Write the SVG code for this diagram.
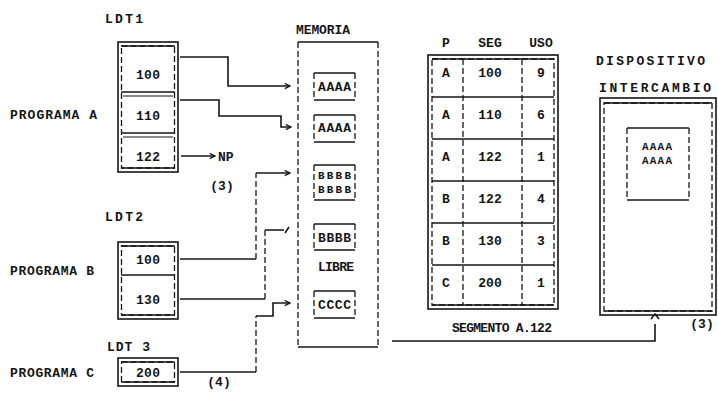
<svg xmlns="http://www.w3.org/2000/svg" width="718" height="396" viewBox="0 0 718 396">
<defs>
<style>
.t{font-family:"Liberation Mono","DejaVu Sans Mono",monospace;font-size:13px;font-weight:bold;fill:#151515;}
.s{font-size:11px;}
.ln{fill:none;stroke:#151515;stroke-width:1.6;}
.th{fill:none;stroke:#151515;stroke-width:1;}
.d{fill:none;stroke:#151515;stroke-width:1.3;stroke-dasharray:6 3;}
</style>
<marker id="ar" viewBox="0 0 8 8" refX="7" refY="4" markerWidth="7" markerHeight="7" markerUnits="userSpaceOnUse" orient="auto"><path d="M1,1 L7,4 L1,7" fill="none" stroke="#151515" stroke-width="1.4"/></marker>
</defs>
<rect width="718" height="396" fill="#ffffff"/>

<g id="ldt1">
<text class="t" x="105" y="23" textLength="38" lengthAdjust="spacing">LDT1</text>
<text class="t" x="10" y="119" textLength="87" lengthAdjust="spacing">PROGRAMA A</text>
<rect class="ln" x="118" y="42" width="60" height="130"/>
<rect class="d" x="121.5" y="46" width="53" height="122"/>
<line class="ln" x1="121" y1="46" x2="175" y2="46"/>
<line class="ln" x1="121" y1="168" x2="175" y2="168"/>
<line class="ln" x1="121" y1="92" x2="175" y2="92"/>
<line class="th" x1="123" y1="96" x2="173" y2="96"/>
<line class="ln" x1="121" y1="133" x2="175" y2="133"/>
<line class="th" x1="123" y1="137" x2="173" y2="137"/>
<text class="t" x="136" y="79" textLength="24" lengthAdjust="spacing">100</text>
<text class="t" x="136" y="120" textLength="24" lengthAdjust="spacing">110</text>
<text class="t" x="136" y="161" textLength="24" lengthAdjust="spacing">122</text>
</g>

<g id="ldt2">
<text class="t" x="105" y="221" textLength="38" lengthAdjust="spacing">LDT2</text>
<text class="t" x="10" y="275" textLength="84" lengthAdjust="spacing">PROGRAMA B</text>
<rect class="ln" x="118" y="242" width="60" height="77"/>
<rect class="d" x="121.5" y="246" width="53" height="69"/>
<line class="ln" x1="121" y1="246" x2="175" y2="246"/>
<line class="ln" x1="121" y1="315" x2="175" y2="315"/>
<line class="ln" x1="121" y1="275" x2="175" y2="275"/>
<text class="t" x="136" y="264" textLength="24" lengthAdjust="spacing">100</text>
<text class="t" x="136" y="304" textLength="24" lengthAdjust="spacing">130</text>
</g>

<g id="ldt3">
<text class="t" x="107" y="351" textLength="43" lengthAdjust="spacing">LDT 3</text>
<text class="t" x="10" y="377" textLength="84" lengthAdjust="spacing">PROGRAMA C</text>
<rect class="ln" x="118" y="358" width="60" height="28"/>
<rect class="d" x="121.5" y="362" width="53" height="20"/>
<line class="ln" x1="121" y1="362" x2="175" y2="362"/>
<line class="ln" x1="121" y1="382" x2="175" y2="382"/>
<text class="t" x="136" y="377" textLength="24" lengthAdjust="spacing">200</text>
</g>

<g id="memoria">
<text class="t" x="296" y="34" textLength="54" lengthAdjust="spacing">MEMORIA</text>
<line class="ln" x1="298" y1="42" x2="378" y2="42"/>
<line class="ln" x1="298" y1="347" x2="378" y2="347"/>
<line class="d" x1="298" y1="42" x2="298" y2="347"/>
<line class="d" x1="378" y1="42" x2="378" y2="347"/>
<g id="m1"><line class="ln" x1="314" y1="73" x2="355" y2="73"/><line class="ln" x1="314" y1="100" x2="355" y2="100"/><line class="d" x1="314" y1="73" x2="314" y2="100"/><line class="d" x1="355" y1="73" x2="355" y2="100"/><text class="t" x="318" y="91" textLength="33" lengthAdjust="spacing">AAAA</text></g>
<g id="m2"><line class="ln" x1="314" y1="115" x2="355" y2="115"/><line class="ln" x1="314" y1="142" x2="355" y2="142"/><line class="d" x1="314" y1="115" x2="314" y2="142"/><line class="d" x1="355" y1="115" x2="355" y2="142"/><text class="t" x="318" y="132" textLength="33" lengthAdjust="spacing">AAAA</text></g>
<g id="m3"><line class="ln" x1="314" y1="165" x2="355" y2="165"/><line class="ln" x1="314" y1="200" x2="355" y2="200"/><line class="d" x1="314" y1="165" x2="314" y2="200"/><line class="d" x1="355" y1="165" x2="355" y2="200"/><text class="t s" x="318" y="179" textLength="33" lengthAdjust="spacing">BBBB</text><text class="t s" x="318" y="193" textLength="33" lengthAdjust="spacing">BBBB</text></g>
<g id="m4"><line class="ln" x1="314" y1="224" x2="355" y2="224"/><line class="ln" x1="314" y1="250" x2="355" y2="250"/><line class="d" x1="314" y1="224" x2="314" y2="250"/><line class="d" x1="355" y1="224" x2="355" y2="250"/><text class="t" x="318" y="242" textLength="33" lengthAdjust="spacing">BBBB</text></g>
<text class="t" x="318" y="271" textLength="36" lengthAdjust="spacing">LIBRE</text>
<g id="m5"><line class="ln" x1="314" y1="291" x2="355" y2="291"/><line class="ln" x1="314" y1="318" x2="355" y2="318"/><line class="d" x1="314" y1="291" x2="314" y2="318"/><line class="d" x1="355" y1="291" x2="355" y2="318"/><text class="t" x="318" y="309" textLength="33" lengthAdjust="spacing">CCCC</text></g>
</g>

<g id="tabla">
<text class="t" x="446" y="47" text-anchor="middle">P</text>
<text class="t" x="490" y="47" text-anchor="middle">SEG</text>
<text class="t" x="541" y="47" text-anchor="middle">USO</text>
<rect class="ln" x="428" y="55" width="130" height="254"/>
<rect class="d" x="432" y="59" width="122" height="246"/>
<line class="ln" x1="432" y1="59" x2="554" y2="59"/>
<line class="ln" x1="432" y1="305" x2="554" y2="305"/>
<line class="ln" x1="432" y1="97" x2="554" y2="97"/>
<line class="ln" x1="432" y1="139" x2="554" y2="139"/>
<line class="ln" x1="432" y1="181" x2="554" y2="181"/>
<line class="ln" x1="432" y1="223" x2="554" y2="223"/>
<line class="ln" x1="432" y1="265" x2="554" y2="265"/>
<line class="d" x1="463" y1="59" x2="463" y2="305"/>
<line class="d" x1="522" y1="59" x2="522" y2="305"/>
<text class="t" x="446" y="77" text-anchor="middle">A</text><text class="t" x="490" y="77" text-anchor="middle">100</text><text class="t" x="541" y="77" text-anchor="middle">9</text>
<text class="t" x="446" y="119" text-anchor="middle">A</text><text class="t" x="490" y="119" text-anchor="middle">110</text><text class="t" x="541" y="119" text-anchor="middle">6</text>
<text class="t" x="446" y="161" text-anchor="middle">A</text><text class="t" x="490" y="161" text-anchor="middle">122</text><text class="t" x="541" y="161" text-anchor="middle">1</text>
<text class="t" x="446" y="203" text-anchor="middle">B</text><text class="t" x="490" y="203" text-anchor="middle">122</text><text class="t" x="541" y="203" text-anchor="middle">4</text>
<text class="t" x="446" y="245" text-anchor="middle">B</text><text class="t" x="490" y="245" text-anchor="middle">130</text><text class="t" x="541" y="245" text-anchor="middle">3</text>
<text class="t" x="446" y="287" text-anchor="middle">C</text><text class="t" x="490" y="287" text-anchor="middle">200</text><text class="t" x="541" y="287" text-anchor="middle">1</text>
<text class="t" x="452" y="332" textLength="100" lengthAdjust="spacing">SEGMENTO A.122</text>
</g>

<g id="dispositivo">
<text class="t" x="596" y="65" textLength="109" lengthAdjust="spacing">DISPOSITIVO</text>
<text class="t" x="599" y="92" textLength="112" lengthAdjust="spacing">INTERCAMBIO</text>
<rect class="ln" x="600" y="98" width="116" height="217"/>
<rect class="d" x="604" y="103" width="108" height="208"/>
<line class="ln" x1="604" y1="103" x2="712" y2="103"/>
<line class="ln" x1="604" y1="311" x2="712" y2="311"/>
<line class="ln" x1="627" y1="128" x2="689" y2="128"/>
<line class="ln" x1="627" y1="200" x2="689" y2="200"/>
<line class="d" x1="627" y1="128" x2="627" y2="200"/>
<line class="d" x1="689" y1="128" x2="689" y2="200"/>
<text class="t s" x="642" y="150" textLength="30" lengthAdjust="spacing">AAAA</text>
<text class="t s" x="642" y="164" textLength="30" lengthAdjust="spacing">AAAA</text>
</g>

<g id="conectores">
<path class="ln" d="M180,57 H228 V86 H290" marker-end="url(#ar)"/>
<path class="ln" d="M180,100 H219 V116 H281 V127 H291" marker-end="url(#ar)"/>
<path class="ln" d="M181,156 H215" marker-end="url(#ar)"/>
<text class="t" x="218" y="161">NP</text>
<text class="t" x="222" y="190" text-anchor="middle">(3)</text>
<path class="ln" d="M180,259 H256"/>
<path class="d" d="M256,259 V173"/>
<path class="ln" d="M256,173 H290" marker-end="url(#ar)"/>
<path class="ln" d="M180,299 H265"/>
<path class="d" d="M265,299 V230"/>
<path class="ln" d="M265,230 H284 M285,233 L289,227"/>
<path class="ln" d="M180,372 H256"/>
<path class="d" d="M256,372 V316"/>
<path class="ln" d="M256,316 H273 V303 H290" marker-end="url(#ar)"/>
<text class="t" x="219" y="386" text-anchor="middle">(4)</text>
<path class="ln" d="M392,341 H655 V324"/>
<path class="ln" d="M651,319 L655,314 L659,319"/>
<text class="t" x="702" y="328" text-anchor="middle">(3)</text>
</g>
</svg>
